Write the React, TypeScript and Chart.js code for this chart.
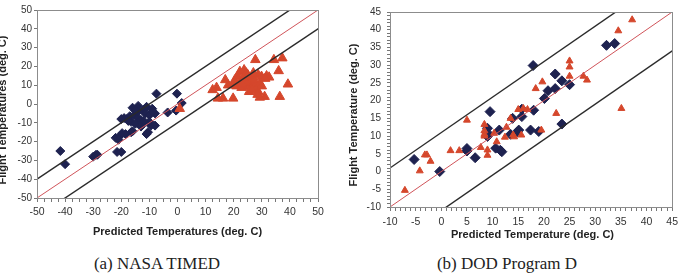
import React, { useEffect, useRef } from "react";
import { Chart, registerables } from "chart.js";

Chart.register(...registerables);

// ---- (a) NASA TIMED: predicted vs. flight temperatures (deg. C) ----
const timedBoxPredicted = [
  -41.7, -40, -30, -29, -28.5, -22, -20.5, -21.5, -20, -19.7, -16.5, -16, -11, -10.5, -9.5, -8,
  -7.5, -0.2, -3.5, -0.5, 1.5, -19, -18, -17, -16.5, -15.5, -15, -14, -13, -12.5, -16, -14,
  -12, -11, -9, -8, -11.5, -10, -10, -14, -13, -12, -20, -17.5, -15, -9, -21, -18.5,
];
const timedBoxFlight = [
  -25, -32, -28, -27, -27, -18, -17, -25.5, -25.5, -15.5, -15, -14.5, -16, -15, -11.5, -11.5,
  5.5, 5.5, -4.5, -3.5, 0.5, -7.5, -8, -6.5, -9.5, -6, -10.5, -7.5, -8.5, -10.5, -2, -1,
  -3, -1.5, -2.5, -5, -5, -6, -9.5, -4, -12, -9, -8, -9, -3.5, -4, -19, -16,
];
const timedComponentPredicted = [
  0.8, 13.9, 12.5, 14.4, 16.2, 19.8, 17, 18, 20.4, 19.8, 21, 22.2, 23.7, 24.5, 22.2, 22.8,
  25.1, 25.1, 26, 26.5, 27, 27.5, 28, 28.7, 28.7, 29.3, 29.9, 30, 25.5, 26.5, 24, 23.5,
  27.7, 34.3, 37.3, 36, 39.3, 36.4, 31, 29.3, 28.5, 31.7, 32.6, 31.2, 21.5, 25, 27, 23,
];
const timedComponentFlight = [
  -2.5, 8.7, 7.5, 3, 3, 3, 12.8, 10, 12.8, 10.5, 9.5, 17.2, 18.1, 16.4, 11.9, 8.7,
  13.7, 9.2, 11.5, 14.6, 10, 12.5, 8, 6.6, 15.5, 11, 14.6, 9.5, 6.5, 7.5, 12, 14,
  23.5, 23.5, 24.4, 17.6, 10.5, 3.9, 3.9, 3.5, 5, 14.9, 14.2, 13.5, 15, 15.5, 16.5, 10.5,
];
const timedTicksX = { min: -50, max: 50, major: 10, minor: 2.5 };
const timedTicksY = { min: -50, max: 50, major: 10, minor: 10 };
const timedMargin = 10;

// ---- (b) DOD Program D ----
const dodBoxPredicted = [
  -5.3, -0.3, 5, 5, 6.6, 9.5, 9, 9, 9, 10.6, 11.5, 11.8, 11.3, 13.9, 13.5, 14.7,
  15.1, 15.7, 15.7, 17.4, 18, 17.9, 19, 20.1, 20.8, 22.2, 22.2, 23.5, 23.5, 25, 32.2, 33.8,
];
const dodBoxFlight = [
  3.4, 0, 6.5, 5.8, 3.9, 16.9, 12.2, 10.9, 9.9, 6.6, 6, 5.6, 11.7, 15, 10.5, 11,
  11.7, 15.5, 17.6, 11.7, 17.3, 29.9, 11.3, 20.6, 22.8, 27.5, 23.4, 25.6, 13.4, 24.5, 35.6, 36.1,
];
const dodComponentPredicted = [
  -7.1, -4.2, -3.2, -2.8, -2.1, 1.8, 3.5, 5, 7.7, 8.4, 8.4, 8.4, 8.4, 9, 9, 10.3,
  10.8, 12.4, 12.7, 13.5, 14, 15.6, 16, 16.8, 18.4, 19.5, 19.7, 22.4, 25, 25, 25, 27.7,
  28.4, 34.5, 35.1, 37.2, 15, 14.2,
];
const dodComponentFlight = [
  -5.3, 0.2, 4.7, 4.7, 2.9, 5.9, 5.9, 14.5, 6.8, 13.3, 11.5, 10.5, 10, 6.1, 4.6, 10.8,
  8.4, 9.7, 12.5, 15, 10.3, 10.3, 17.8, 17.5, 23.4, 11.7, 25.3, 16.4, 31.2, 29.5, 26.9, 26.9,
  25.8, 39.7, 17.8, 42.8, 17.5, 9.8,
];
const dodTicksX = { min: -10, max: 45, major: 5, minor: 1 };
const dodTicksY = { min: -10, max: 45, major: 5, minor: 1 };
const dodMargin = 11;

const BOX_COLOR = "#1e2250";
const COMPONENT_COLOR = "#d5472c";
const SANS = "'Liberation Sans', Arial, sans-serif";

const zip = (xs: number[], ys: number[]) => xs.map((x, i) => ({ x, y: ys[i] }));

const tickValues = (min: number, max: number, step: number) => {
  const out: { value: number }[] = [];
  const n = Math.round((max - min) / step);
  for (let i = 0; i <= n; i++) out.push({ value: +(min + i * step).toFixed(4) });
  return out;
};

type PanelSpec = {
  width: number;
  height: number;
  area: { left: number; top: number; right: number; bottom: number };
  xTicks: { min: number; max: number; major: number; minor: number };
  yTicks: { min: number; max: number; major: number; minor: number };
  xTick: { length: number; padding: number };
  yTick: { length: number; padding: number };
  margin: number;
  boxes: { x: number; y: number }[];
  components: { x: number; y: number }[];
  boxRadius: number;
  componentRadius: number;
  xTitle: string;
  yTitle: string;
  xTitleAt: [number, number];
  yTitleAt: [number, number];
};

// Frame around the plot area plus the two axis titles.
const frameAndTitles = {
  id: "frameAndTitles",
  afterDraw(chart: any, _args: any, opts: any) {
    const { ctx, chartArea } = chart;
    ctx.save();
    ctx.strokeStyle = "#8c8c8c";
    ctx.lineWidth = 1;
    ctx.strokeRect(
      Math.round(chartArea.left) + 0.5,
      Math.round(chartArea.top) + 0.5,
      Math.round(chartArea.right - chartArea.left),
      Math.round(chartArea.bottom - chartArea.top)
    );
    ctx.fillStyle = "#222";
    ctx.font = `bold 11px ${SANS}`;
    ctx.textAlign = "center";
    ctx.textBaseline = "middle";
    ctx.fillText(opts.xTitle, opts.xTitleAt[0], opts.xTitleAt[1]);
    ctx.translate(opts.yTitleAt[0], opts.yTitleAt[1]);
    ctx.rotate(-Math.PI / 2);
    ctx.fillText(opts.yTitle, 0, 0);
    ctx.restore();
  },
};

function Panel({ spec, left }: { spec: PanelSpec; left: number }) {
  const ref = useRef<HTMLCanvasElement | null>(null);

  useEffect(() => {
    if (!ref.current) return;
    const { xTicks, yTicks, margin, area } = spec;
    const lo = xTicks.min - 20;
    const hi = xTicks.max + 20;
    const band = (offset: number, color: string, width: number) => ({
      type: "scatter" as const,
      data: [
        { x: lo, y: lo + offset },
        { x: hi, y: hi + offset },
      ],
      showLine: true,
      borderColor: color,
      borderWidth: width,
      pointRadius: 0,
      order: 0,
    });

    const chart = new Chart(ref.current, {
      type: "scatter",
      data: {
        datasets: [
          band(margin, "#2b2b2b", 1.4),
          band(-margin, "#2b2b2b", 1.4),
          band(0, "#d0545a", 1),
          {
            data: spec.components,
            pointStyle: "triangle",
            pointRadius: spec.componentRadius,
            backgroundColor: COMPONENT_COLOR,
            borderColor: COMPONENT_COLOR,
            borderWidth: 1,
            order: 1,
          },
          {
            data: spec.boxes,
            pointStyle: "rectRot",
            pointRadius: spec.boxRadius,
            backgroundColor: BOX_COLOR,
            borderColor: BOX_COLOR,
            borderWidth: 1,
            order: 2,
          },
        ] as any,
      },
      options: {
        animation: false,
        responsive: false,
        events: [],
        layout: {
          padding: { left: 0, top: area.top, right: spec.width - area.right, bottom: 0 },
        },
        plugins: {
          legend: { display: false },
          tooltip: { enabled: false },
          frameAndTitles: {
            xTitle: spec.xTitle,
            yTitle: spec.yTitle,
            xTitleAt: spec.xTitleAt,
            yTitleAt: spec.yTitleAt,
          },
        } as any,
        scales: {
          x: {
            type: "linear",
            min: xTicks.min,
            max: xTicks.max,
            afterBuildTicks: (s: any) => {
              s.ticks = tickValues(xTicks.min, xTicks.max, xTicks.minor);
            },
            afterFit: (s: any) => {
              s.height = spec.height - area.bottom;
            },
            ticks: {
              autoSkip: false,
              maxRotation: 0,
              padding: spec.xTick.padding,
              color: "#333",
              font: { family: SANS, size: 10.5 },
              callback: (v: any) => (Math.abs(Number(v) % xTicks.major) < 1e-6 ? String(v) : ""),
            },
            grid: { drawOnChartArea: false, tickLength: spec.xTick.length, color: "#777" },
            border: { color: "#8c8c8c" },
          },
          y: {
            type: "linear",
            min: yTicks.min,
            max: yTicks.max,
            afterBuildTicks: (s: any) => {
              s.ticks = tickValues(yTicks.min, yTicks.max, yTicks.minor);
            },
            afterFit: (s: any) => {
              s.width = area.left;
            },
            ticks: {
              autoSkip: false,
              padding: spec.yTick.padding,
              color: "#333",
              font: { family: SANS, size: 10 },
              callback: (v: any) => (Math.abs(Number(v) % yTicks.major) < 1e-6 ? String(v) : ""),
            },
            grid: { drawOnChartArea: false, tickLength: spec.yTick.length, color: "#777" },
            border: { color: "#8c8c8c" },
          },
        },
      } as any,
      plugins: [frameAndTitles],
    });
    return () => chart.destroy();
  }, [spec]);

  return (
    <canvas
      ref={ref}
      width={spec.width}
      height={spec.height}
      style={{ position: "absolute", left, top: 0, width: spec.width, height: spec.height }}
    />
  );
}

const timedSpec: PanelSpec = {
  width: 340,
  height: 250,
  area: { left: 37, top: 10, right: 318, bottom: 198 },
  xTicks: timedTicksX,
  yTicks: timedTicksY,
  xTick: { length: 4, padding: 4 },
  yTick: { length: 3, padding: 2 },
  margin: timedMargin,
  boxes: zip(timedBoxPredicted, timedBoxFlight),
  components: zip(timedComponentPredicted, timedComponentFlight),
  boxRadius: 4.5,
  componentRadius: 5.5,
  xTitle: "Predicted Temperatures (deg. C)",
  yTitle: "Flight Temperatures (deg. C)",
  xTitleAt: [177.5, 232],
  yTitleAt: [3, 110],
};

const dodSpec: PanelSpec = {
  width: 343,
  height: 250,
  area: { left: 50, top: 12, right: 334, bottom: 207 },
  xTicks: dodTicksX,
  yTicks: dodTicksY,
  xTick: { length: 4, padding: 5 },
  yTick: { length: 3, padding: 6 },
  margin: dodMargin,
  boxes: zip(dodBoxPredicted, dodBoxFlight),
  components: zip(dodComponentPredicted, dodComponentFlight),
  boxRadius: 5,
  componentRadius: 4,
  xTitle: "Predicted Temperature (deg. C)",
  yTitle: "Flight Temperature (deg. C)",
  xTitleAt: [192.5, 235],
  yTitleAt: [14, 115],
};

const captionStyle = (center: number): React.CSSProperties => ({
  position: "absolute",
  left: center,
  top: 254,
  transform: "translateX(-50%)",
  whiteSpace: "nowrap",
  fontFamily: "'Liberation Serif', 'DejaVu Serif', serif",
  fontSize: 17,
  lineHeight: "20px",
  color: "#222",
});

export default function App() {
  return (
    <div
      style={{
        position: "absolute",
        left: 0,
        top: 0,
        width: 683,
        height: 273,
        overflow: "hidden",
        background: "#fff",
      }}
    >
      <Panel spec={timedSpec} left={0} />
      <Panel spec={dodSpec} left={340} />
      <div style={captionStyle(157)}>(a) NASA TIMED</div>
      <div style={captionStyle(507)}>(b) DOD Program D</div>
    </div>
  );
}
